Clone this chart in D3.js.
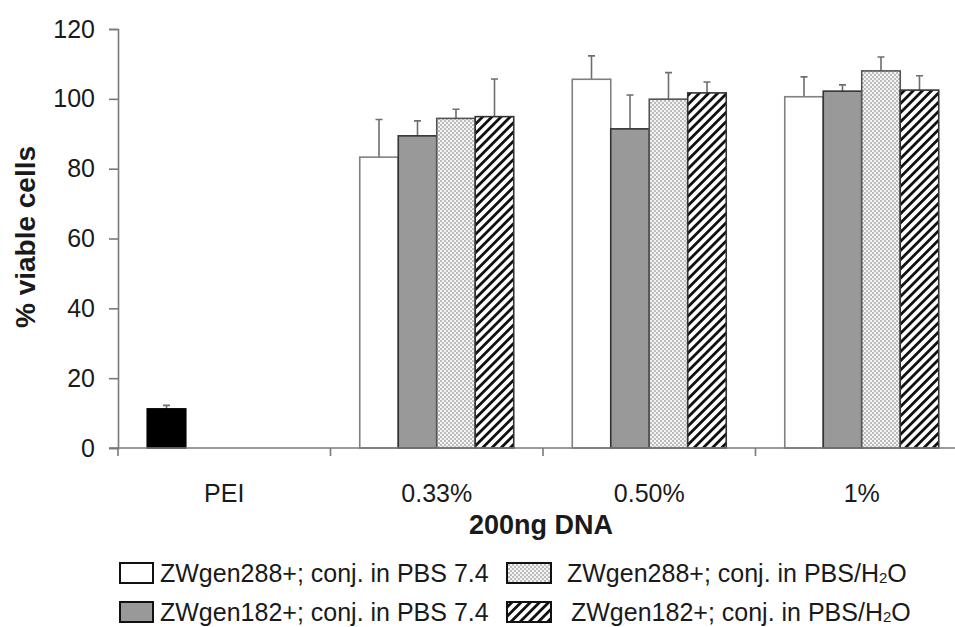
<!DOCTYPE html>
<html>
<head>
<meta charset="utf-8">
<script src="https://cdn.jsdelivr.net/npm/d3@7"></script>
<style>
  body { margin: 0; background: #fff; }
  svg text { font-family: "Liberation Sans", Arial, sans-serif; fill: #1a1a1a; }
</style>
</head>
<body>
<div id="chart"></div>
<script>
// categories on the x axis
var categories = ["PEI", "0.33%", "0.50%", "1%"];

// series (PEI control is drawn in slot 0 of its own group)
var seriesKeys = ["zw288_pbs", "zw182_pbs", "zw288_h2o", "zw182_h2o"];
var seriesLabels = ["ZWgen288+; conj. in PBS 7.4", "ZWgen182+; conj. in PBS 7.4",
                    "ZWgen288+; conj. in PBS/H", "ZWgen182+; conj. in PBS/H"];

// % viable cells, one value per conc. category (0.33%, 0.50%, 1%)
var zw288_pbs = [83.3, 105.6, 100.6];
var zw182_pbs = [89.4, 91.4, 102.2];
var zw288_h2o = [94.4, 99.9, 108.0];
var zw182_h2o = [94.9, 101.7, 102.5];

// error bars (upper, SD)
var zw288_pbs_err = [10.8, 6.7, 5.7];
var zw182_pbs_err = [4.3, 9.7, 1.8];
var zw288_h2o_err = [2.6, 7.6, 4.0];
var zw182_h2o_err = [10.8, 3.1, 4.1];

var peiValue = 11.2;
var peiErr = 1.0;

var yTicks = [0, 20, 40, 60, 80, 100, 120];

var values = { zw288_pbs: zw288_pbs, zw182_pbs: zw182_pbs, zw288_h2o: zw288_h2o, zw182_h2o: zw182_h2o };
var errors = { zw288_pbs: zw288_pbs_err, zw182_pbs: zw182_pbs_err, zw288_h2o: zw288_h2o_err, zw182_h2o: zw182_h2o_err };

var width = 955, height = 627;
var margin = {left: 118, top: 29, right: -13, bottom: 179};

var svg = d3.select("#chart").append("svg")
  .attr("width", width)
  .attr("height", height);

// patterns
var defs = svg.append("defs");
var dots = defs.append("pattern")
  .attr("id", "dots")
  .attr("patternUnits", "userSpaceOnUse")
  .attr("width", 4).attr("height", 4);
dots.append("rect").attr("width", 4).attr("height", 4).attr("fill", "#f4f4f4");
dots.append("rect").attr("width", 2).attr("height", 2).attr("fill", "#bdbdbd");
dots.append("rect").attr("x", 2).attr("y", 2).attr("width", 2).attr("height", 2).attr("fill", "#bdbdbd");

var hatch = defs.append("pattern")
  .attr("id", "hatch")
  .attr("patternUnits", "userSpaceOnUse")
  .attr("width", 6.5).attr("height", 6.5)
  .attr("patternTransform", "rotate(45)");
hatch.append("rect").attr("width", 6.5).attr("height", 6.5).attr("fill", "#fff");
hatch.append("rect").attr("width", 2.8).attr("height", 6.5).attr("fill", "#111");

var fills = { zw288_pbs: "#ffffff", zw182_pbs: "#999999", zw288_h2o: "url(#dots)", zw182_h2o: "url(#hatch)" };
var strokes = { zw288_pbs: "#808080", zw182_pbs: "#333333", zw288_h2o: "#555555", zw182_h2o: "#333333" };

var x0 = d3.scaleBand()
  .domain(categories)
  .range([margin.left, width - margin.right])
  .paddingInner(0).paddingOuter(0);

var x1 = d3.scaleBand()
  .domain(seriesKeys)
  .range([0, x0.bandwidth()])
  .paddingInner(0)
  .paddingOuter(0.76);

var y = d3.scaleLinear()
  .domain([0, 120])
  .range([height - margin.bottom, margin.top]);

// y axis
var yAxis = svg.append("g")
  .attr("transform", "translate(" + margin.left + ",0)")
  .call(d3.axisLeft(y).tickValues(yTicks).tickSize(9).tickPadding(14).tickFormat(d3.format("d")));
yAxis.select(".domain").attr("stroke", "#7a7a7a").attr("stroke-width", 1.6);
yAxis.selectAll(".tick line").attr("stroke", "#7a7a7a").attr("stroke-width", 1.6);
yAxis.selectAll(".tick text").style("font-size", "25px").attr("fill", "#1a1a1a");

// bars for concentration groups
var concCats = categories.slice(1);
var barData = [];
seriesKeys.forEach(function(k) {
  concCats.forEach(function(c, i) {
    barData.push({cat: c, key: k, value: values[k][i], err: errors[k][i]});
  });
});
barData.push({cat: "PEI", key: seriesKeys[0], value: peiValue, err: peiErr, pei: true});

var bars = svg.append("g");

// error bars first (behind bar tops)
bars.selectAll(".err")
  .data(barData)
  .enter().append("path")
  .attr("class", "err")
  .attr("fill", "none")
  .attr("stroke", "#6e6e6e")
  .attr("stroke-width", 1.6)
  .attr("d", function(d) {
    var cx = x0(d.cat) + x1(d.key) + x1.bandwidth() / 2;
    var y1 = y(d.value), y2 = y(d.value + d.err);
    return "M" + cx + "," + y1 + "V" + y2 + "M" + (cx - 3.5) + "," + y2 + "H" + (cx + 3.5);
  });

bars.selectAll(".bar")
  .data(barData)
  .enter().append("rect")
  .attr("class", "bar")
  .attr("x", function(d) { return x0(d.cat) + x1(d.key); })
  .attr("y", function(d) { return y(d.value); })
  .attr("width", x1.bandwidth())
  .attr("height", function(d) { return y(0) - y(d.value); })
  .attr("fill", function(d) { return d.pei ? "#000" : fills[d.key]; })
  .attr("stroke", function(d) { return d.pei ? "#000" : strokes[d.key]; })
  .attr("stroke-width", 1.6);

// x axis
var xAxis = svg.append("g")
  .attr("transform", "translate(0," + y(0) + ")");
xAxis.append("line")
  .attr("x1", margin.left - 9).attr("x2", width + 20)
  .attr("stroke", "#7a7a7a").attr("stroke-width", 1.6);
xAxis.selectAll(".ctick")
  .data(categories)
  .enter().append("line")
  .attr("x1", function(d) { return x0(d); })
  .attr("x2", function(d) { return x0(d); })
  .attr("y1", 0).attr("y2", 8)
  .attr("stroke", "#7a7a7a").attr("stroke-width", 1.6);
xAxis.selectAll(".clabel")
  .data(categories)
  .enter().append("text")
  .attr("x", function(d) { return x0(d) + x0.bandwidth() / 2; })
  .attr("y", 54)
  .attr("text-anchor", "middle")
  .style("font-size", "25px")
  .text(function(d) { return d; });

// axis titles
svg.append("text")
  .attr("x", (margin.left + width - margin.right) / 2 - 2)
  .attr("y", 534)
  .attr("text-anchor", "middle")
  .style("font-size", "27px")
  .style("font-weight", "bold")
  .text("200ng DNA");

svg.append("text")
  .attr("transform", "translate(35," + 237 + ") rotate(-90)")
  .attr("text-anchor", "middle")
  .style("font-size", "28px")
  .style("font-weight", "bold")
  .text("% viable cells");

// legend
var legendPos = [
  {key: "zw288_pbs", sx: 120, sw: 33, tx: 160, y: 563},
  {key: "zw182_pbs", sx: 120, sw: 33, tx: 160, y: 602},
  {key: "zw288_h2o", sx: 507, sw: 44, tx: 567, y: 563},
  {key: "zw182_h2o", sx: 507, sw: 44, tx: 571, y: 602}
];
var legend = svg.append("g");
var items = legend.selectAll(".item")
  .data(legendPos)
  .enter().append("g");
items.append("rect")
  .attr("x", function(d) { return d.sx; })
  .attr("y", function(d) { return d.y; })
  .attr("width", function(d) { return d.sw; })
  .attr("height", 20)
  .attr("fill", function(d) { return fills[d.key]; })
  .attr("stroke", "#111")
  .attr("stroke-width", 2);
var lt = items.append("text")
  .attr("x", function(d) { return d.tx; })
  .attr("y", function(d) { return d.y + 19; })
  .style("font-size", "25px");
lt.append("tspan").text(function(d) { return seriesLabels[seriesKeys.indexOf(d.key)]; });
lt.filter(function(d) { return d.key.indexOf("h2o") >= 0; })
  .append("tspan").style("font-size", "15px").attr("dy", 1).text("2");
lt.filter(function(d) { return d.key.indexOf("h2o") >= 0; })
  .append("tspan").attr("dy", -1).text("O");
</script>
</body>
</html>
